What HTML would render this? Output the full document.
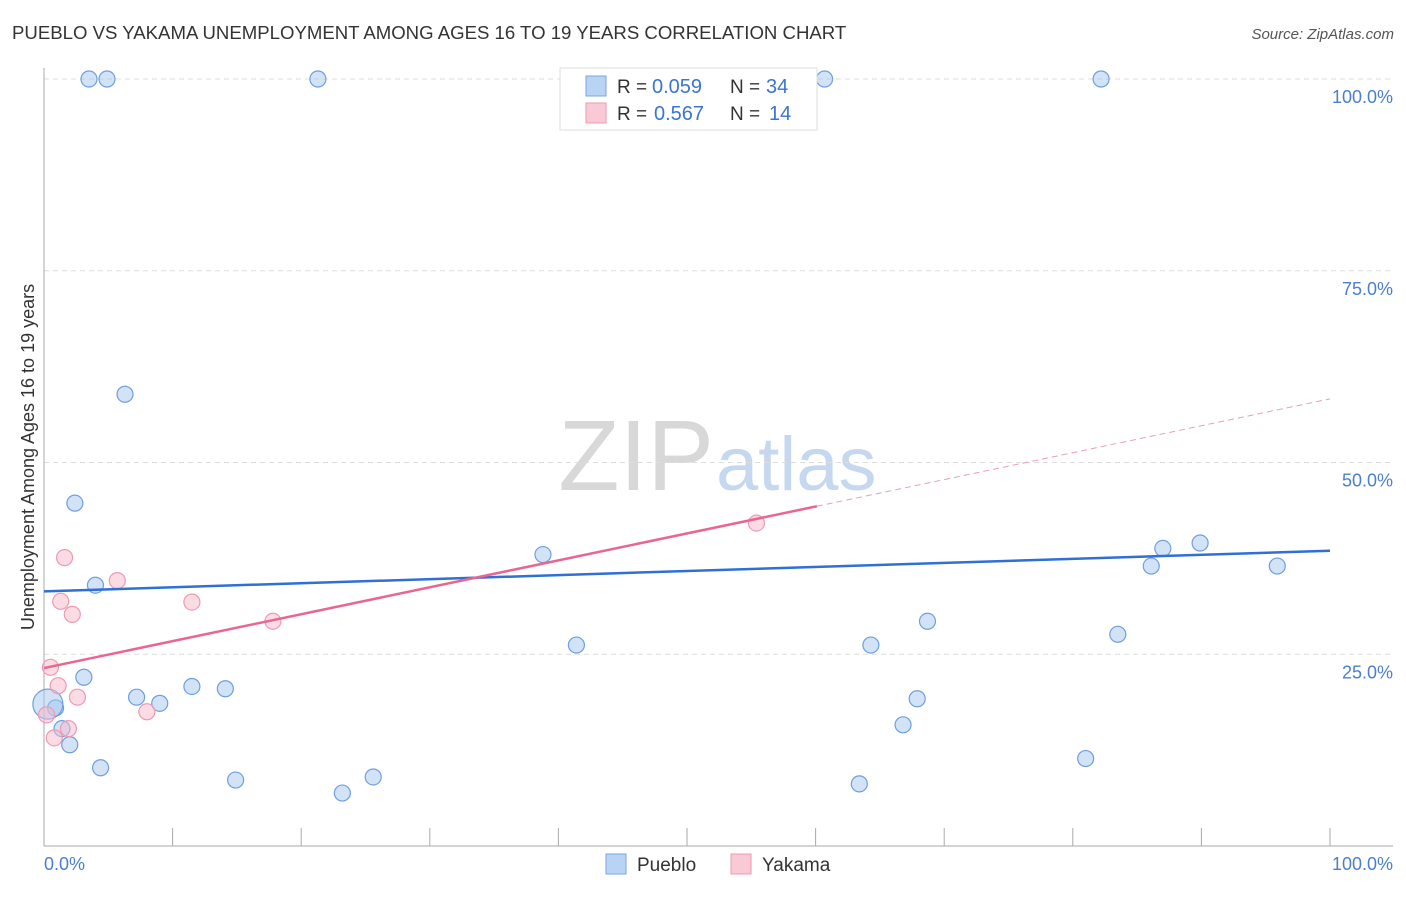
<!DOCTYPE html>
<html><head><meta charset="utf-8"><style>
body{margin:0;background:#fff;font-family:"Liberation Sans",sans-serif;}
svg text{font-family:"Liberation Sans",sans-serif;}
</style></head><body>
<svg id="c" width="1406" height="892">
<text x="12" y="39" font-size="18.6" fill="#333">PUEBLO VS YAKAMA UNEMPLOYMENT AMONG AGES 16 TO 19 YEARS CORRELATION CHART</text>
<text x="1394" y="39" font-size="15" fill="#555" font-style="italic" text-anchor="end">Source: ZipAtlas.com</text>
<text x="714" y="490" font-size="100" fill="#d8d8d8" font-family="Liberation Serif" text-anchor="end">ZIP</text>
<text x="716" y="490" font-size="76" fill="#c6d8ef">atlas</text>
<text transform="translate(34,457) rotate(-90)" font-size="18" fill="#333" text-anchor="middle">Unemployment Among Ages 16 to 19 years</text>
<g id="axes"></g><g id="marks"></g>
<g>
<rect x="560" y="68" width="257" height="62" fill="#fff" stroke="#ddd"/>
<rect x="586" y="76" width="20" height="20" fill="#b9d3f5" stroke="#7aa6e0"/>
<rect x="586" y="103" width="20" height="20" fill="#f9c9d6" stroke="#ee9ab3"/>
<text x="617" y="93" font-size="19" fill="#333">R =</text>
<text x="652" y="93" font-size="20" fill="#3a75d0">0.059</text>
<text x="730" y="93" font-size="19" fill="#333">N =</text>
<text x="766" y="93" font-size="20" fill="#3a75d0">34</text>
<text x="617" y="120" font-size="19" fill="#333">R =</text>
<text x="654" y="120" font-size="20" fill="#3a75d0">0.567</text>
<text x="730" y="120" font-size="19" fill="#333">N =</text>
<text x="769" y="120" font-size="20" fill="#3a75d0">14</text>
</g>
<g>
<rect x="606" y="854" width="20" height="20" fill="#b9d3f5" stroke="#7aa6e0"/>
<text x="637" y="871" font-size="19" fill="#333">Pueblo</text>
<rect x="731" y="854" width="20" height="20" fill="#f9c9d6" stroke="#ee9ab3"/>
<text x="762" y="871" font-size="19" fill="#333">Yakama</text>
</g>
</svg>
<script>
const puebloX=[3.5,4.9,21.3,60.7,82.2,6.3,2.4,4.0,38.8,87.0,89.9,86.1,95.9,3.1,7.2,9.0,11.5,14.1,41.4,64.3,68.7,67.9,66.8,83.5,0.9,1.4,2.0,4.4,14.9,23.2,25.6,63.4,81.0,0.3];
const puebloY=[100,100,100,100,100,58.9,44.7,34.0,38.0,38.8,39.5,36.5,36.5,22.0,19.4,18.6,20.8,20.5,26.2,26.2,29.3,19.2,15.8,27.6,18.0,15.3,13.2,10.2,8.6,6.9,9.0,8.1,11.4,18.5];
const puebloR=[8,8,8,8,8,8,8,8,8,8,8,8,8,8,8,8,8,8,8,8,8,8,8,8,8,8,8,8,8,8,8,8,8,15];
const yakamaX=[1.6,5.7,1.3,2.2,11.5,17.8,55.4,0.5,1.1,2.6,8.0,1.9,0.8,0.2];
const yakamaY=[37.6,34.6,31.9,30.2,31.8,29.3,42.1,23.3,20.9,19.4,17.5,15.3,14.1,17.1];
const puebloTrend=[33.2,38.5];
const yakamaTrend=[23.2,0.351,60.1];
const xTicks=[0,10,20,30,40,50,60,70,80,90,100];
const yTicks=[25,50,75,100];
const sx=v=>44+v*12.86, sy=v=>846-v*7.67;
const NS='http://www.w3.org/2000/svg';
const ax=document.getElementById('axes'), mk=document.getElementById('marks');
function el(p,t,a){const e=document.createElementNS(NS,t);for(const k in a)e.setAttribute(k,a[k]);p.appendChild(e);return e;}
yTicks.forEach(t=>{
 const g=el(ax,'line',{x1:44,x2:1393,y1:sy(t),y2:sy(t),stroke:'#ddd','stroke-dasharray':'5,4'});
 
 
 const l=el(ax,'text',{x:1393,y:sy(t)+24,'font-size':18,fill:'#4a7fd0','text-anchor':'end'});l.textContent=t.toFixed(1)+'%';
 
 
});
let a=el(ax,'line',{x1:44,x2:44,y1:68,y2:846,stroke:'#aaa'});


a=el(ax,'line',{x1:44,x2:1393,y1:846,y2:846,stroke:'#aaa'});


xTicks.forEach(t=>{const k=el(ax,'line',{x1:sx(t),x2:sx(t),y1:828,y2:846,stroke:'#aaa'});
 
 });
[[0,'start'],[100,'end']].forEach(([t,an])=>{const l=el(ax,'text',{x:t?1393:44,y:870,'font-size':18,fill:'#4a7fd0','text-anchor':an});l.textContent=t.toFixed(1)+'%';
 
 });
puebloX.forEach((x,i)=>{const c=el(mk,'circle',{cx:sx(x),cy:sy(puebloY[i]),r:puebloR[i],fill:'rgba(165,198,240,0.5)',stroke:'#6f9fe0','stroke-width':1.2});
 
 });
yakamaX.forEach((x,i)=>{const c=el(mk,'circle',{cx:sx(x),cy:sy(yakamaY[i]),r:8,fill:'rgba(248,185,204,0.5)',stroke:'#ee9ab3','stroke-width':1.2});
 
 });
let t=el(mk,'line',{x1:sx(0),y1:sy(puebloTrend[0]),x2:sx(100),y2:sy(puebloTrend[1]),stroke:'#2f6fd6','stroke-width':2.5});


const yk=x=>yakamaTrend[0]+yakamaTrend[1]*x;
t=el(mk,'line',{x1:sx(0),y1:sy(yk(0)),x2:sx(yakamaTrend[2]),y2:sy(yk(yakamaTrend[2])),stroke:'#e8668f','stroke-width':2.5});


t=el(mk,'line',{x1:sx(yakamaTrend[2]),y1:sy(yk(yakamaTrend[2])),x2:sx(100),y2:sy(yk(100)),stroke:'#e8a0b6','stroke-width':1,'stroke-dasharray':'6,4'});


</script>
</body></html>
